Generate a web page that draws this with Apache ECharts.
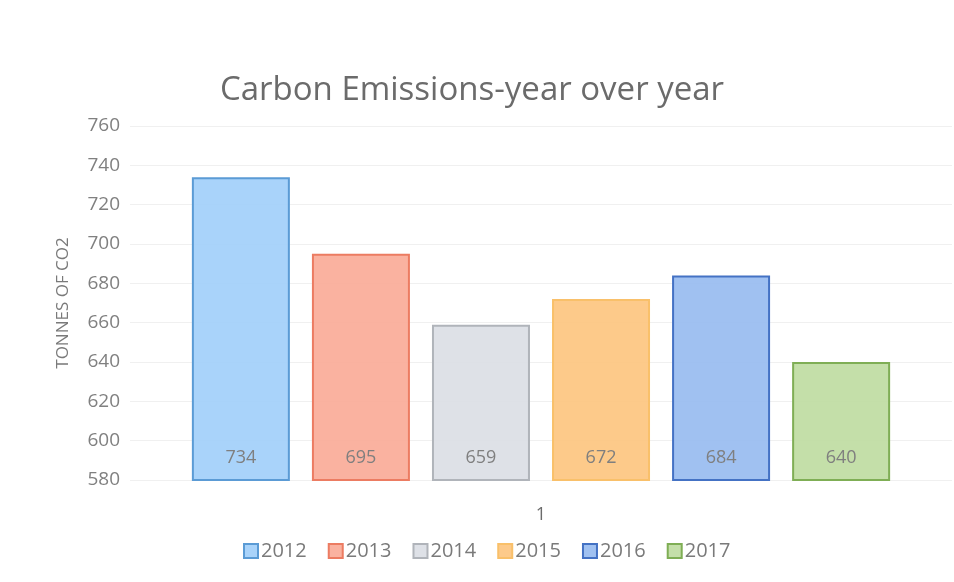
<!DOCTYPE html>
<html><head><meta charset="utf-8">
<script src="https://cdn.jsdelivr.net/npm/echarts@6/dist/echarts.min.js"></script>
<style>html,body{margin:0;padding:0;background:#fff}#c{width:954px;height:582px}</style>
</head><body><div id="c"></div>
<script>
const categories = ['1'];
const years = ['2012','2013','2014','2015','2016','2017'];
const values = [734, 695, 659, 672, 684, 640];
const yTicks = [580, 760, 20];
const fills = ['rgba(160,206,250,0.9)','rgba(250,170,150,0.9)','rgba(218,222,228,0.9)','rgba(253,196,125,0.9)','rgba(150,186,240,0.9)','rgba(190,220,160,0.9)'];
const borders = ['#5b9bd5','#ec7c62','#b0b4ba','#f9c06a','#4472c4','#7fae55'];

const chart = echarts.init(document.getElementById('c'));
chart.setOption({
  backgroundColor:'#fff',
  animation:false,
  title:{text:'Carbon Emissions-year over year',left:467,top:69,textAlign:'center',
    textStyle:{fontFamily:'Open Sans',fontSize:33,fontWeight:'normal',color:'#6b6b6b'}},
  grid:{left:130,right:2,top:126,bottom:102},
  legend:{bottom:16,left:238,itemWidth:14,itemHeight:14,itemGap:21,
    icon:'rect',
    textStyle:{fontFamily:'Open Sans',fontSize:20,color:'#7a7a7a',padding:[0,0,0,-2]},
    data:years},
  xAxis:{type:'category',data:categories,axisLine:{show:false},axisTick:{show:false},
    axisLabel:{margin:26,fontFamily:'Open Sans',fontSize:18,color:'#6b6b6b'}},
  yAxis:{type:'value',min:yTicks[0],max:yTicks[1],interval:yTicks[2],
    name:'TONNES OF CO2',nameLocation:'middle',nameGap:58,nameRotate:90,
    nameTextStyle:{fontFamily:'Open Sans',fontSize:17,color:'#7a7a7a'},
    axisLabel:{margin:10,fontFamily:'Open Sans',fontSize:19,color:'#808080'},
    splitLine:{lineStyle:{color:'#f0f0f0',width:1}},axisLine:{show:false},axisTick:{show:false}},
  series: years.map((y,i)=>({
    name:y,type:'bar',barWidth:98,barGap:'22.5%',
    data:[values[i]],
    itemStyle:{color:fills[i],borderColor:borders[i],borderWidth:2},
    label:{show:true,position:'insideBottom',distance:14,fontFamily:'Open Sans',fontSize:18,color:'#7f7f7f'}
  }))
});
</script></body></html>
